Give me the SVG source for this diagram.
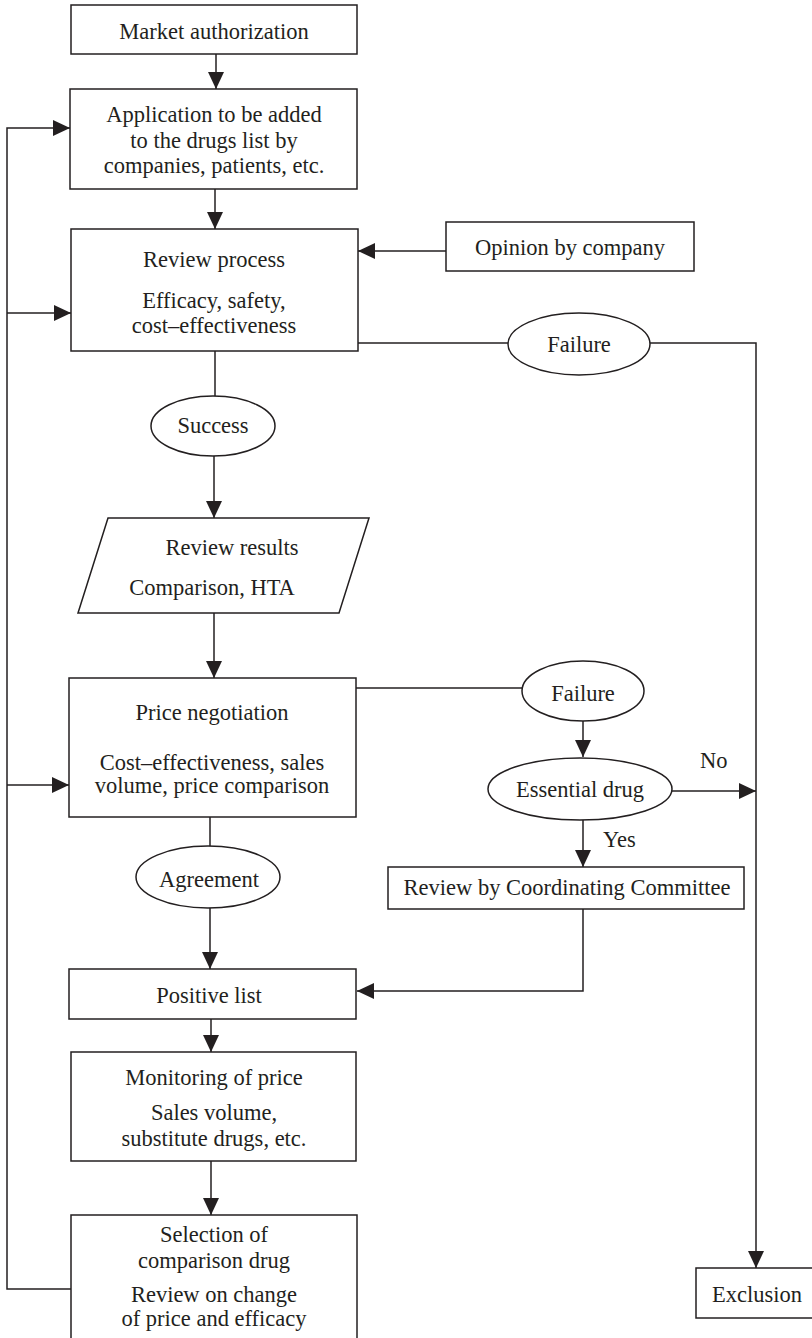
<svg xmlns="http://www.w3.org/2000/svg" width="812" height="1338" viewBox="0 0 812 1338">
  <style>
    .shape { fill: #ffffff; stroke: #231f20; stroke-width: 1.5; }
    .wire { fill: none; stroke: #231f20; stroke-width: 1.5; }
    .arrow { marker-end: url(#head); }
    text { font-family: "Liberation Serif", "Times New Roman", serif; font-size: 22.5px; fill: #231f20; text-anchor: middle; }
    .lbl { text-anchor: start; }
  </style>
  <defs>
    <marker id="head" markerUnits="userSpaceOnUse" viewBox="0 0 17 16" refX="17" refY="8" markerWidth="17" markerHeight="16" orient="auto">
      <path d="M0,0 L17,8 L0,16 Z" fill="#231f20"/>
    </marker>
  </defs>
  <rect width="812" height="1338" fill="#ffffff"/>

  <!-- connectors -->
  <g id="connectors">
    <path class="wire arrow" d="M216,54 V89"/>
    <path class="wire arrow" d="M215,189 V229"/>
    <path class="wire arrow" d="M446,251 H358"/>
    <path class="wire" d="M215,351 V396"/>
    <path class="wire arrow" d="M214,456 V518"/>
    <path class="wire arrow" d="M214,613 V678"/>
    <path class="wire" d="M358,343 H508"/>
    <path class="wire arrow" d="M650,343 H756 V1268"/>
    <path class="wire" d="M356,688 H522"/>
    <path class="wire arrow" d="M583,721 V757"/>
    <path class="wire arrow" d="M672,791 H756"/>
    <path class="wire arrow" d="M583,820 V867"/>
    <path class="wire arrow" d="M583,909 V991 H357"/>
    <path class="wire" d="M210,817 V847"/>
    <path class="wire arrow" d="M210,908 V969"/>
    <path class="wire arrow" d="M211,1019 V1052"/>
    <path class="wire arrow" d="M211,1161 V1215"/>
    <path class="wire arrow" d="M71,1289 H7 V128 H70"/>
    <path class="wire arrow" d="M7,313 H71"/>
    <path class="wire arrow" d="M7,785 H69"/>
    <text class="lbl" x="700" y="768">No</text>
    <text class="lbl" x="603" y="847">Yes</text>
  </g>

  <g id="market-authorization">
    <rect class="shape" x="71" y="5" width="286" height="49"/>
    <text x="214" y="39">Market authorization</text>
  </g>

  <g id="application">
    <rect class="shape" x="70" y="89" width="287" height="100"/>
    <text x="214" y="122">Application to be added</text>
    <text x="214" y="148">to the drugs list by</text>
    <text x="214" y="173">companies, patients, etc.</text>
  </g>

  <g id="review-process">
    <rect class="shape" x="71" y="229" width="287" height="122"/>
    <text x="214" y="267">Review process</text>
    <text x="214" y="308">Efficacy, safety,</text>
    <text x="214" y="333">cost–effectiveness</text>
  </g>

  <g id="opinion">
    <rect class="shape" x="446" y="222" width="248" height="49"/>
    <text x="570" y="255">Opinion by company</text>
  </g>

  <g id="failure-review">
    <ellipse class="shape" cx="579" cy="344" rx="71" ry="31"/>
    <text x="579" y="352">Failure</text>
  </g>

  <g id="success">
    <ellipse class="shape" cx="213" cy="426" rx="62" ry="30"/>
    <text x="213" y="433">Success</text>
  </g>

  <g id="review-results">
    <polygon class="shape" points="108,518 369,518 339,613 78,613"/>
    <text x="232" y="555">Review results</text>
    <text x="212" y="595">Comparison, HTA</text>
  </g>

  <g id="price-negotiation">
    <rect class="shape" x="69" y="678" width="287" height="139"/>
    <text x="212" y="720">Price negotiation</text>
    <text x="212" y="770">Cost–effectiveness, sales</text>
    <text x="212" y="793">volume, price comparison</text>
  </g>

  <g id="failure-price">
    <ellipse class="shape" cx="583" cy="691" rx="61" ry="30"/>
    <text x="583" y="701">Failure</text>
  </g>

  <g id="essential-drug">
    <ellipse class="shape" cx="580" cy="789" rx="92" ry="31"/>
    <text x="580" y="797">Essential drug</text>
  </g>

  <g id="review-committee">
    <rect class="shape" x="388" y="867" width="356" height="42"/>
    <text x="567" y="895">Review by Coordinating Committee</text>
  </g>

  <g id="agreement">
    <ellipse class="shape" cx="208" cy="877" rx="72" ry="31"/>
    <text x="209" y="887">Agreement</text>
  </g>

  <g id="positive-list">
    <rect class="shape" x="69" y="969" width="287" height="50"/>
    <text x="209" y="1003">Positive list</text>
  </g>

  <g id="monitoring">
    <rect class="shape" x="71" y="1052" width="285" height="109"/>
    <text x="214" y="1085">Monitoring of price</text>
    <text x="214" y="1120">Sales volume,</text>
    <text x="214" y="1146">substitute drugs, etc.</text>
  </g>

  <g id="selection">
    <rect class="shape" x="71" y="1215" width="286" height="140"/>
    <text x="214" y="1242">Selection of</text>
    <text x="214" y="1268">comparison drug</text>
    <text x="214" y="1302">Review on change</text>
    <text x="214" y="1326">of price and efficacy</text>
  </g>

  <g id="exclusion">
    <rect class="shape" x="696" y="1268" width="130" height="50"/>
    <text x="757" y="1302">Exclusion</text>
  </g>
</svg>
